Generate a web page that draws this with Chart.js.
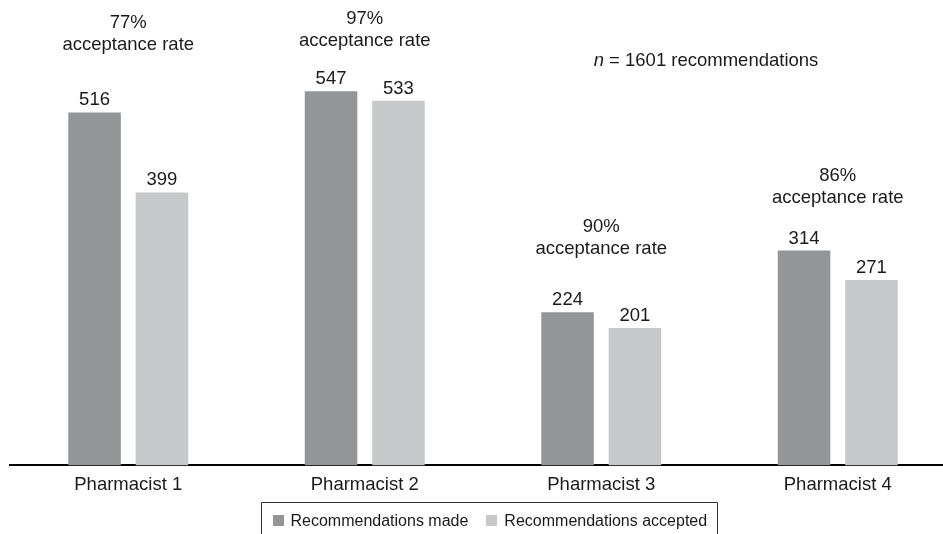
<!DOCTYPE html>
<html>
<head>
<meta charset="utf-8">
<script src="https://cdn.jsdelivr.net/npm/chart.js@4/dist/chart.umd.min.js"></script>
<style>
  html, body { margin: 0; padding: 0; background: #fff; overflow: hidden; }
  #wrap { position: relative; width: 957px; height: 534px; }
</style>
</head>
<body>
<div id="wrap"><canvas id="chart" width="957" height="534"></canvas></div>
<script>
// Recommendations per pharmacist
const pharmacists = ['Pharmacist 1', 'Pharmacist 2', 'Pharmacist 3', 'Pharmacist 4'];
const recommendationsMade = [516, 547, 224, 314];
const recommendationsAccepted = [399, 533, 201, 271];
const acceptanceRates = ['77%', '97%', '90%', '86%'];
const totalRecommendations = 1601;
const seriesNames = ['Recommendations made', 'Recommendations accepted'];
const seriesColors = ['#939598', '#c7c8ca'];

const FONT = '"Liberation Sans", Arial, Helvetica, sans-serif';
const TEXT_SIZE = 18.5;

// Value labels above each bar, rate notes above each group, n note and boxed legend
const annotatePlugin = {
  id: 'annotate',
  afterDatasetsDraw(chart, args, opts) {
    const ctx = chart.ctx;
    const xScale = chart.scales.x;
    const f = TEXT_SIZE + 'px ' + FONT;
    const fi = 'italic ' + TEXT_SIZE + 'px ' + FONT;
    ctx.save();
    ctx.fillStyle = '#1a1a1a';
    ctx.textAlign = 'center';
    ctx.textBaseline = 'alphabetic';
    ctx.font = f;

    // bar values
    chart.data.datasets.forEach((ds, di) => {
      chart.getDatasetMeta(di).data.forEach((bar, i) => {
        ctx.fillText(String(ds.data[i]), bar.x, bar.y - 7);
      });
    });

    // acceptance-rate notes
    const madeMeta = chart.getDatasetMeta(0).data;
    acceptanceRates.forEach((rate, i) => {
      const cx = xScale.getPixelForValue(i);
      const base = madeMeta[i].y - opts.noteGap[i];
      ctx.fillText(rate, cx, base - 22);
      ctx.fillText('acceptance rate', cx, base);
    });

    // total note with italic n
    const rest = ' = ' + totalRecommendations + ' recommendations';
    ctx.font = fi;
    const wN = ctx.measureText('n').width;
    ctx.font = f;
    const wRest = ctx.measureText(rest).width;
    const x0 = opts.totalNote.x - (wN + wRest) / 2;
    ctx.textAlign = 'left';
    ctx.font = fi;
    ctx.fillText('n', x0, opts.totalNote.y);
    ctx.font = f;
    ctx.fillText(rest, x0 + wN, opts.totalNote.y);

    // legend in an open-bottom box
    const lg = opts.legend;
    ctx.font = lg.fontSize + 'px ' + FONT;
    const widths = chart.data.datasets.map(ds => ctx.measureText(ds.label).width);
    const inner = chart.data.datasets.reduce((s, ds, k) =>
      s + lg.box + lg.boxGap + widths[k] + (k ? lg.itemGap : 0), 0);
    const boxLeft = Math.round(lg.centerX - (inner + lg.padL + lg.padR) / 2) + 0.5;
    const boxRight = Math.round(boxLeft + inner + lg.padL + lg.padR) + 0.5;
    ctx.strokeStyle = '#333';
    ctx.lineWidth = 1;
    ctx.beginPath();
    ctx.moveTo(boxLeft, chart.height + 2);
    ctx.lineTo(boxLeft, lg.top + 0.5);
    ctx.lineTo(boxRight, lg.top + 0.5);
    ctx.lineTo(boxRight, chart.height + 2);
    ctx.stroke();
    let x = boxLeft + lg.padL;
    chart.data.datasets.forEach((ds, k) => {
      if (k) x += lg.itemGap;
      ctx.fillStyle = ds.backgroundColor;
      ctx.fillRect(Math.round(x), lg.swatchTop, lg.box, lg.box);
      x += lg.box + lg.boxGap;
      ctx.fillStyle = '#1a1a1a';
      ctx.fillText(ds.label, x, lg.textBase);
      x += widths[k];
    });
    ctx.restore();
  }
};

new Chart(document.getElementById('chart'), {
  type: 'bar',
  data: {
    labels: pharmacists,
    datasets: [
      { label: seriesNames[0], data: recommendationsMade, backgroundColor: seriesColors[0] },
      { label: seriesNames[1], data: recommendationsAccepted, backgroundColor: seriesColors[1] }
    ]
  },
  options: {
    responsive: false,
    animation: false,
    devicePixelRatio: 1,
    categoryPercentage: 0.57,
    barPercentage: 0.78,
    layout: { padding: { left: 10, right: 1, top: 55, bottom: 30.4 } },
    scales: {
      x: {
        grid: { display: false, drawTicks: false },
        border: { display: true, color: '#000', width: 2 },
        ticks: { color: '#1a1a1a', padding: 8, font: { family: FONT, size: TEXT_SIZE } }
      },
      y: { display: false, min: 0, max: 600 }
    },
    plugins: {
      legend: { display: false },
      tooltip: { enabled: false },
      annotate: {
        noteGap: [62, 45, 58, 48],
        totalNote: { x: 706, y: 66 },
        legend: {
          centerX: 488.5, top: 502, fontSize: 16, box: 11, boxGap: 7, itemGap: 18,
          padL: 11, padR: 10, swatchTop: 515, textBase: 526
        }
      }
    }
  },
  plugins: [annotatePlugin]
});
</script>
</body>
</html>
